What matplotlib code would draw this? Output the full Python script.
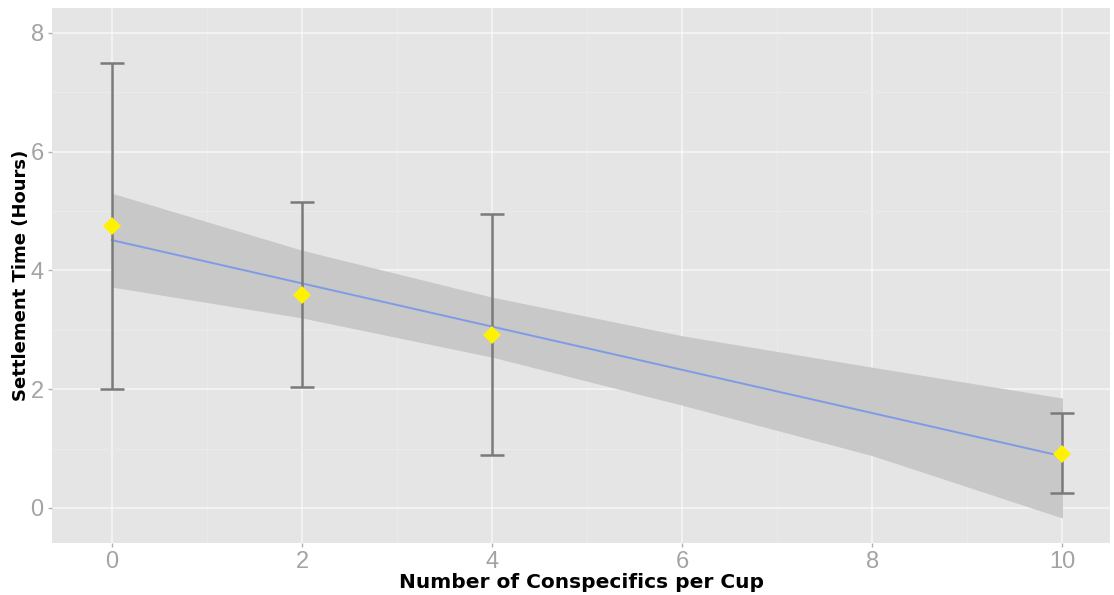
import matplotlib
matplotlib.use("Agg")
import matplotlib.pyplot as plt
from matplotlib.ticker import MultipleLocator

# ==========================
# DATA
# ==========================

conspecifics = [0, 2, 4, 10]
mean_time = [4.75, 3.58, 2.92, 0.91]
err_low = [2.00, 2.04, 0.89, 0.25]
err_high = [7.49, 5.15, 4.95, 1.60]

band_x = [0, 2, 4, 6, 8, 10]
band_upper = [5.30, 4.34, 3.55, 2.90, 2.37, 1.85]
band_lower = [3.72, 3.20, 2.54, 1.73, 0.88, -0.17]
fit_x = [0, 10]
fit_y = [4.51, 0.87]

x_ticks = [0, 2, 4, 6, 8, 10]
y_ticks = [0, 2, 4, 6, 8]

# ==========================
# PLOT
# ==========================

fig = plt.figure(figsize=(11.14, 5.95), dpi=100)
ax = fig.add_axes([0.0467, 0.0874, 0.9497, 0.8992])

ax.set_facecolor("#E5E5E5")
for spine in ax.spines.values():
    spine.set_visible(False)

ax.set_xlim(-0.63, 10.5)
ax.set_ylim(-0.59, 8.42)

ax.set_xticks(x_ticks)
ax.set_yticks(y_ticks)
ax.xaxis.set_minor_locator(MultipleLocator(1))
ax.yaxis.set_minor_locator(MultipleLocator(1))
ax.grid(which="major", color="white", linewidth=1.2, alpha=0.6)
ax.grid(which="minor", color="#EAEAEA", linewidth=0.8)
ax.set_axisbelow(True)

ax.tick_params(which="major", length=3, width=1, color="#B0B0B0",
               labelsize=17, labelcolor="#A3A3A3", pad=3)
ax.tick_params(which="minor", length=0)
for lab in ax.get_xticklabels() + ax.get_yticklabels():
    lab.set_family("Liberation Sans")

# confidence band
ax.fill_between(band_x, band_lower, band_upper,
                color="#C8C8C8", linewidth=0, zorder=2)

# fit line
ax.plot(fit_x, fit_y, color="#7F9BE6", linewidth=1.4, zorder=3)

# error bars + means
yerr = [
    [m - lo for m, lo in zip(mean_time, err_low)],
    [hi - m for m, hi in zip(mean_time, err_high)],
]
ax.errorbar(conspecifics, mean_time, yerr=yerr, fmt="none",
            ecolor="#7A7A7A", elinewidth=1.8, capsize=8.6, capthick=1.8,
            zorder=4)
ax.plot(conspecifics, mean_time, linestyle="none", marker="D",
        markersize=9, color="#FFF200", markeredgewidth=0, zorder=5)

ax.set_xlabel("Number of Conspecifics per Cup", fontsize=14.5,
              fontweight="bold", family="DejaVu Sans", labelpad=0)
ax.set_ylabel("Settlement Time (Hours)", fontsize=13,
              fontweight="bold", family="DejaVu Sans", labelpad=0)

fig.savefig("out.png", dpi=100)
